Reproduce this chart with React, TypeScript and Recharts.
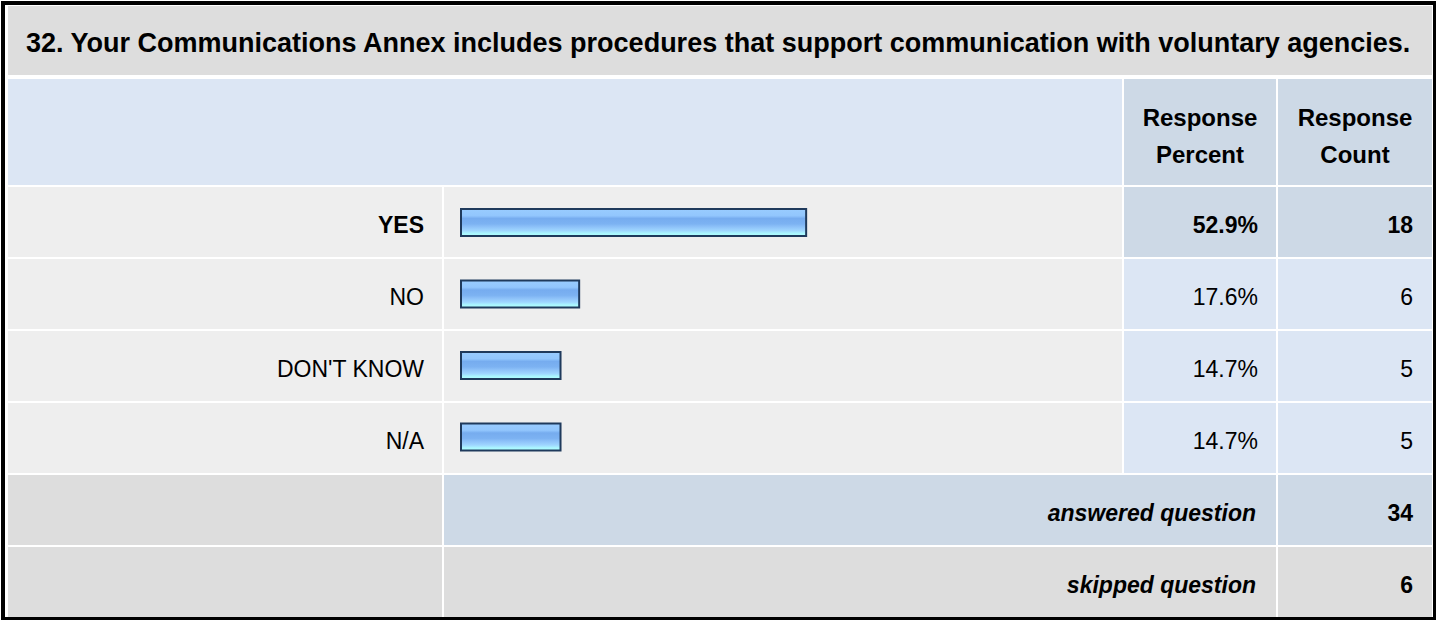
import React from "react";
import { BarChart, Bar, XAxis, YAxis } from "recharts";

const TITLE =
  "32. Your Communications Annex includes procedures that support communication with voluntary agencies.";
const answers = ["YES", "NO", "DON'T KNOW", "N/A"];
const percents = [52.9, 17.6, 14.7, 14.7];
const counts = [18, 6, 5, 5];
const answeredCount = 34;
const skippedCount = 6;

const FONT = '"Liberation Sans", Arial, sans-serif';
const GREY = "#dddddd";
const ROW_GREY = "#eeeeee";
const LIGHT_BLUE = "#dce6f4";
const MID_BLUE = "#cdd9e6";

// column edges
const COL = {
  label: [8, 442],
  bar: [444, 1122],
  pct: [1124, 1276],
  count: [1278, 1432],
};
const ROW_TOP = 187;
const ROW_PITCH = 72;
const ROW_H = 70;

const data = answers.map((name, i) => ({ name, pct: percents[i], count: counts[i] }));

function Cell(props: {
  x0: number;
  x1: number;
  y: number;
  h: number;
  bg: string;
  align?: "left" | "right" | "center";
  bold?: boolean;
  italic?: boolean;
  pad?: number;
  size?: number;
  shift?: number;
  children?: React.ReactNode;
}) {
  const { x0, x1, y, h, bg, align = "right", bold, italic, pad = 18, size = 23, shift = 6, children } = props;
  return (
    <div
      style={{
        position: "absolute",
        left: x0,
        top: y,
        width: x1 - x0,
        height: h,
        background: bg,
        display: "flex",
        alignItems: "center",
        justifyContent:
          align === "left" ? "flex-start" : align === "center" ? "center" : "flex-end",
        boxSizing: "border-box",
        paddingTop: shift,
        paddingLeft: align === "left" ? pad : 0,
        paddingRight: align === "right" ? pad : 0,
        fontWeight: bold ? "bold" : "normal",
        fontStyle: italic ? "italic" : "normal",
        fontSize: size,
        color: "#000",
        textAlign: align,
        whiteSpace: "nowrap",
      }}
    >
      {children}
    </div>
  );
}

const BarShape = (props: any) => {
  const { x, y, width, height } = props;
  return (
    <rect
      x={x}
      y={y}
      width={width + 5}
      height={height}
      fill="url(#barGrad)"
      stroke="#1f3a5c"
      strokeWidth={2}
    />
  );
};

export default function App() {
  const maxPct = Math.max(...percents);
  return (
    <div
      style={{
        position: "absolute",
        left: 0,
        top: 0,
        width: 1437,
        height: 621,
        background: "#fff",
        fontFamily: FONT,
        overflow: "hidden",
      }}
    >
      {/* outer frame */}
      <div
        style={{
          position: "absolute",
          left: 1,
          top: 1,
          width: 1435,
          height: 619,
          boxSizing: "border-box",
          borderStyle: "solid",
          borderColor: "#000",
          borderWidth: "4px 3px 3px 4px",
        }}
      />

      {/* title */}
      <Cell x0={8} x1={1432} y={6} h={69} bg={GREY} align="left" bold size={27}>
        {TITLE}
      </Cell>

      {/* header */}
      <Cell x0={COL.label[0]} x1={COL.bar[1]} y={79} h={106} bg={LIGHT_BLUE} />
      {[COL.pct, COL.count].map((c, i) => (
        <Cell key={i} x0={c[0]} x1={c[1]} y={79} h={106} bg={MID_BLUE} align="center" bold size={24} shift={8}>
          <div style={{ lineHeight: "37px" }}>
            Response
            <br />
            {i === 0 ? "Percent" : "Count"}
          </div>
        </Cell>
      ))}

      {/* answer rows */}
      {data.map((d, i) => {
        const y = ROW_TOP + i * ROW_PITCH;
        const top = d.pct === maxPct;
        return (
          <React.Fragment key={d.name}>
            <Cell x0={COL.label[0]} x1={COL.label[1]} y={y} h={ROW_H} bg={ROW_GREY} bold={top}>
              {d.name}
            </Cell>
            <Cell x0={COL.bar[0]} x1={COL.bar[1]} y={y} h={ROW_H} bg={ROW_GREY} />
            <Cell x0={COL.pct[0]} x1={COL.pct[1]} y={y} h={ROW_H} bg={top ? MID_BLUE : LIGHT_BLUE} bold={top}>
              {d.pct.toFixed(1)}%
            </Cell>
            <Cell x0={COL.count[0]} x1={COL.count[1]} y={y} h={ROW_H} bg={top ? MID_BLUE : LIGHT_BLUE} bold={top} pad={19}>
              {d.count}
            </Cell>
          </React.Fragment>
        );
      })}

      {/* answered / skipped */}
      {(() => {
        const y1 = ROW_TOP + 4 * ROW_PITCH;
        const y2 = ROW_TOP + 5 * ROW_PITCH;
        return (
          <>
            <Cell x0={COL.label[0]} x1={COL.label[1]} y={y1} h={ROW_H} bg={GREY} />
            <Cell x0={COL.bar[0]} x1={COL.pct[1]} y={y1} h={ROW_H} bg={MID_BLUE} bold italic pad={20}>
              answered question
            </Cell>
            <Cell x0={COL.count[0]} x1={COL.count[1]} y={y1} h={ROW_H} bg={MID_BLUE} bold pad={19}>
              {answeredCount}
            </Cell>
            <Cell x0={COL.label[0]} x1={COL.label[1]} y={y2} h={ROW_H} bg={GREY} />
            <Cell x0={COL.bar[0]} x1={COL.pct[1]} y={y2} h={ROW_H} bg={GREY} bold italic pad={20}>
              skipped question
            </Cell>
            <Cell x0={COL.count[0]} x1={COL.count[1]} y={y2} h={ROW_H} bg={GREY} bold pad={19}>
              {skippedCount}
            </Cell>
          </>
        );
      })()}

      {/* bars */}
      <div style={{ position: "absolute", left: COL.bar[0], top: ROW_TOP }}>
        <BarChart
          width={COL.bar[1] - COL.bar[0]}
          height={ROW_PITCH * 4 - 2}
          data={data}
          layout="vertical"
          margin={{ top: 0, right: 18, left: 17, bottom: 0 }}
        >
          <defs>
            <linearGradient id="barGrad" x1="0" y1="0" x2="0" y2="1">
              <stop offset="0%" stopColor="#99ccff" />
              <stop offset="25%" stopColor="#92c6fd" />
              <stop offset="35%" stopColor="#76acef" />
              <stop offset="55%" stopColor="#7cb2f2" />
              <stop offset="65%" stopColor="#8cc0f8" />
              <stop offset="80%" stopColor="#9fd6ff" />
              <stop offset="90%" stopColor="#aaf6ff" />
              <stop offset="100%" stopColor="#b0ffff" />
            </linearGradient>
          </defs>
          <XAxis type="number" domain={[0, 100]} hide />
          <YAxis type="category" dataKey="name" hide />
          <Bar dataKey="pct" barSize={27} shape={BarShape} isAnimationActive={false} />
        </BarChart>
      </div>
    </div>
  );
}
